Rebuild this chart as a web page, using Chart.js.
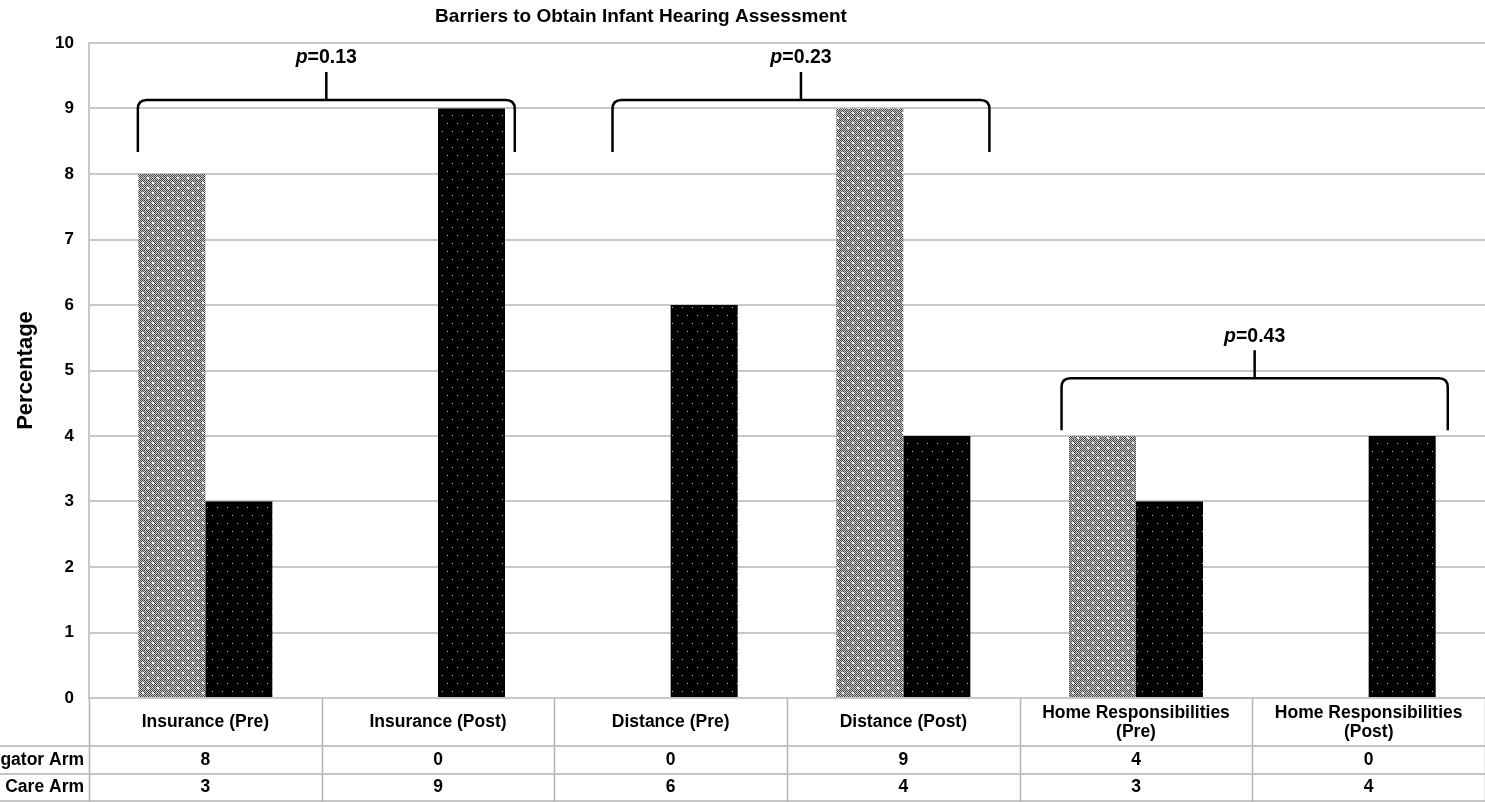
<!DOCTYPE html>
<html>
<head>
<meta charset="utf-8">
<script src="https://cdn.jsdelivr.net/npm/chart.js@4/dist/chart.umd.min.js"></script>
<style>
  html, body { margin: 0; padding: 0; background: #fff; }
  #wrap { width: 1485px; height: 802px; position: relative; }
</style>
</head>
<body>
<div id="wrap"><canvas id="c" width="1485" height="802"></canvas></div>
<script>
// ---- data ----
const categories = [["Insurance (Pre)"], ["Insurance (Post)"], ["Distance (Pre)"], ["Distance (Post)"], ["Home Responsibilities", "(Pre)"], ["Home Responsibilities", "(Post)"]];
const seriesNames = ["Navigator Arm", "Standard Care Arm"];
const navigatorArm = [8, 0, 0, 9, 4, 0];
const standardCareArm = [3, 9, 6, 4, 3, 4];
const yTicks = [0, 1, 2, 3, 4, 5, 6, 7, 8, 9, 10];
const chartTitle = "Barriers to Obtain Infant Hearing Assessment";
const yTitle = "Percentage";
// p-value brackets (in category-index / value coordinates)
const pValues = ["0.13", "0.23", "0.43"];
const bracketStart = [-0.29, 1.75, 3.68];
const bracketEnd = [1.33, 3.37, 5.34];
const bracketLevel = [9.13, 9.13, 4.88];

const FONT = "'Liberation Sans', Arial, sans-serif";

function makePattern(kind) {
  const t = document.createElement('canvas');
  if (kind === 'nav') {
    t.width = 10; t.height = 10;
    const g = t.getContext('2d');
    for (let y = 0; y < 10; y++) for (let x = 0; x < 10; x++) {
      g.fillStyle = ((x + y) % 2 === 0) ? '#444444' : '#cccccc';
      g.fillRect(x, y, 1, 1);
    }
    g.fillStyle = '#ffffff';
    g.fillRect(2, 2, 2, 2);
    g.fillRect(7, 7, 2, 2);
    g.fillStyle = '#eeeeee';
    g.fillRect(7, 2, 1, 1);
    g.fillRect(2, 7, 1, 1);
  } else {
    t.width = 10; t.height = 16;
    const g = t.getContext('2d');
    g.fillStyle = '#000';
    g.fillRect(0, 0, 10, 16);
    g.fillStyle = '#bdbdbd';
    g.fillRect(2, 3, 1, 1);
    g.fillRect(7, 11, 1, 1);
  }
  return t.getContext('2d').createPattern(t, 'repeat');
}

const ctxMain = document.getElementById('c').getContext('2d');

const overlay = {
  id: 'overlay',
  afterDraw(chart) {
    const ctx = chart.ctx;
    const xs = chart.scales.x, ys = chart.scales.y;
    const area = chart.chartArea;
    ctx.save();
    // title
    ctx.fillStyle = '#000';
    ctx.font = `bold 19px ${FONT}`;
    ctx.textAlign = 'center';
    ctx.textBaseline = 'middle';
    ctx.fillText(chartTitle, 641, 17);

    // data table
    const top = area.bottom;
    const r1 = top + 48, r2 = top + 76, bottom = chart.height;
    ctx.strokeStyle = '#b4b4b4';
    ctx.lineWidth = 1.5;
    ctx.beginPath();
    for (let i = 0; i <= categories.length; i++) {
      const x = Math.round(xs.getPixelForValue(i - 0.5)) + 0.5;
      ctx.moveTo(x, top); ctx.lineTo(x, bottom);
    }
    ctx.moveTo(0, r1); ctx.lineTo(area.right, r1);
    ctx.moveTo(0, r2); ctx.lineTo(area.right, r2);
    ctx.moveTo(0, bottom - 1); ctx.lineTo(area.right, bottom - 1);
    ctx.stroke();

    ctx.fillStyle = '#000';
    ctx.font = `bold 17.5px ${FONT}`;
    categories.forEach((lines, i) => {
      const x = xs.getPixelForValue(i);
      if (lines.length === 1) {
        ctx.fillText(lines[0], x, top + 24);
      } else {
        ctx.fillText(lines[0], x, top + 15);
        ctx.fillText(lines[1], x, top + 34);
      }
      ctx.fillText(String(navigatorArm[i]), x, r1 + 14);
      ctx.fillText(String(standardCareArm[i]), x, r2 + 13);
    });
    ctx.textAlign = 'right';
    ctx.fillText(seriesNames[0], 84, r1 + 14);
    ctx.fillText(seriesNames[1], 84, r2 + 13);

    // brackets
    ctx.strokeStyle = '#000';
    ctx.lineWidth = 2.5;
    ctx.lineJoin = 'round';
    pValues.forEach((p, i) => {
      const x1 = xs.getPixelForValue(bracketStart[i]);
      const x2 = xs.getPixelForValue(bracketEnd[i]);
      const y = ys.getPixelForValue(bracketLevel[i]);
      const yEnd = y + 52, yTick = y - 28;
      const xm = (x1 + x2) / 2;
      const r = 9;
      ctx.beginPath();
      ctx.moveTo(x1, yEnd);
      ctx.lineTo(x1, y + r);
      ctx.quadraticCurveTo(x1, y, x1 + r, y);
      ctx.lineTo(x2 - r, y);
      ctx.quadraticCurveTo(x2, y, x2, y + r);
      ctx.lineTo(x2, yEnd);
      ctx.moveTo(xm, y);
      ctx.lineTo(xm, yTick);
      ctx.stroke();
      // label
      const a = 'p';
      const b = '=' + p;
      ctx.font = `bold 19.5px ${FONT}`;
      const wb = ctx.measureText(b).width;
      ctx.font = `bold italic 19.5px ${FONT}`;
      const wa = ctx.measureText(a).width;
      const sx = xm - (wa + wb) / 2;
      const ty = yTick - 14;
      ctx.textAlign = 'left';
      ctx.fillText(a, sx, ty);
      ctx.font = `bold 19.5px ${FONT}`;
      ctx.fillText(b, sx + wa, ty);
    });
    ctx.restore();
  }
};

new Chart(ctxMain, {
  type: 'bar',
  data: {
    labels: categories.map(c => c.join(' ')),
    datasets: [
      { label: seriesNames[0], data: navigatorArm, backgroundColor: makePattern('nav'), borderWidth: 0, barPercentage: 1, categoryPercentage: 0.576 },
      { label: seriesNames[1], data: standardCareArm, backgroundColor: makePattern('std'), borderWidth: 0, barPercentage: 1, categoryPercentage: 0.576 }
    ]
  },
  options: {
    responsive: false,
    animation: false,
    devicePixelRatio: 1,
    layout: { padding: { top: 43, right: 0, left: 0, bottom: 0 } },
    plugins: { legend: { display: false }, title: { display: false }, tooltip: { enabled: false } },
    scales: {
      x: {
        grid: { display: false, drawTicks: false },
        border: { display: false },
        ticks: { display: false },
        afterFit(scale) { scale.height = 104; }
      },
      y: {
        min: 0, max: 10,
        afterBuildTicks(scale) { scale.ticks = yTicks.map(v => ({ value: v })); },
        grid: { color: '#c8c8c8', lineWidth: 2, drawTicks: false },
        border: { display: true, color: '#c8c8c8', width: 2 },
        ticks: { color: '#000', font: { family: FONT, size: 17, weight: 'bold' }, padding: 15 },
        title: { display: true, text: yTitle, color: '#000', font: { family: FONT, size: 22, weight: 'bold' }, padding: { top: 13, bottom: 4 } },
        afterFit(scale) { scale.width = 89; }
      }
    }
  },
  plugins: [overlay]
});
</script>
</body>
</html>
